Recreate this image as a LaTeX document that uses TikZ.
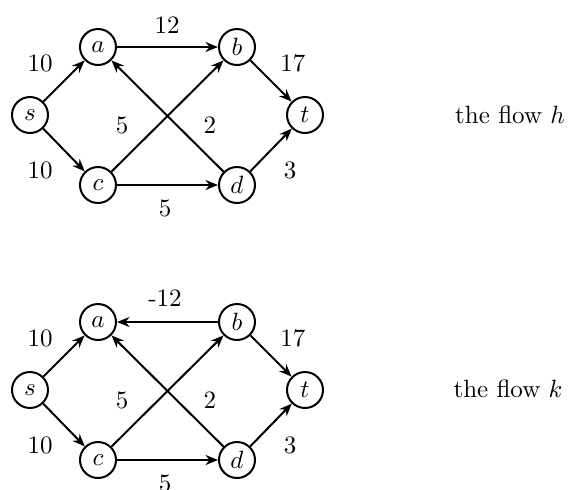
\documentclass[tikz,border=0pt]{standalone}
\usetikzlibrary{arrows.meta}
\begin{document}
\begin{tikzpicture}[x=0.4pt,y=-0.4pt,
  vtx/.style={circle,draw,line width=0.8pt,minimum size=14.4pt,inner sep=0pt},
  edge/.style={line width=0.8pt,-{Stealth[length=5pt,width=4pt]}},
  lbl/.style={inner sep=0pt}]
\useasboundingbox (0,0) rectangle (568,489);
\foreach \o/\n in {0/h,275/k}{
  \begin{scope}[yshift=-\o*0.4pt]
  \node[vtx] (s\n) at (30,115) {$s$};
  \node[vtx] (a\n) at (98,47) {$a$};
  \node[vtx] (b\n) at (237,47) {$b$};
  \node[vtx] (t\n) at (305,115) {$t$};
  \node[vtx] (c\n) at (98,185) {$c$};
  \node[vtx] (d\n) at (237,185) {$d$};
  \draw[edge] (s\n) -- (a\n);
  \draw[edge] (s\n) -- (c\n);
  \draw[edge] (c\n) -- (b\n);
  \draw[edge] (d\n) -- (a\n);
  \draw[edge] (c\n) -- (d\n);
  \draw[edge] (b\n) -- (t\n);
  \draw[edge] (d\n) -- (t\n);
  \node[lbl] (l1\n) at (40,63) {10};
  \node[lbl] (l2\n) at (40,170) {10};
  \node[lbl] (l3\n) at (293,63) {17};
  \node[lbl] (l4\n) at (290,170) {3};
  \node[lbl] (l5\n) at (122,125) {5};
  \node[lbl] (l6\n) at (210,125) {2};
  \node[lbl] (l7\n) at (165,208) {5};
  \end{scope}
}
\draw[edge] (ah) -- (bh);
\draw[edge] (bk) -- (ak);
\node[lbl] (wh) at (167,25) {12};
\node[lbl] (wk) at (165,298) {-12};
\node[lbl] (fh) at (510,115) {the flow $h$};
\node[lbl] (fk) at (508,389) {the flow $k$};
\end{tikzpicture}
\end{document}
